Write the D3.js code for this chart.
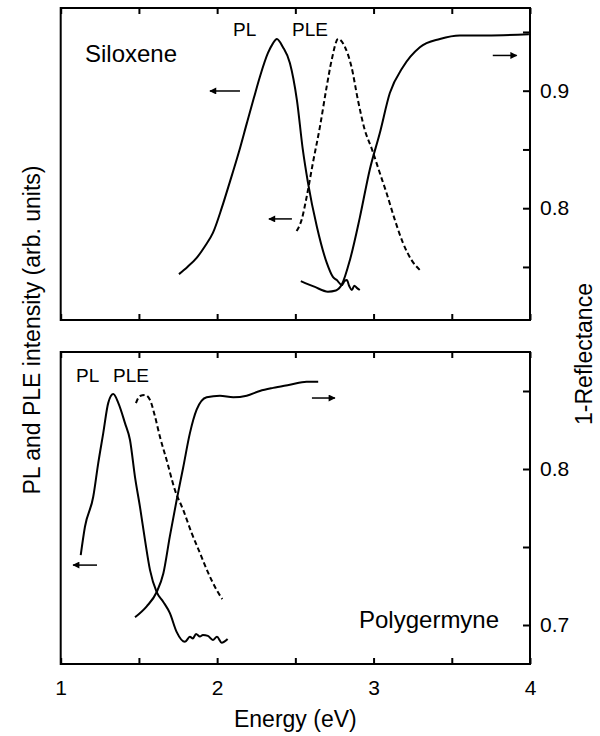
<!DOCTYPE html>
<html>
<head>
<meta charset="utf-8">
<script src="https://cdn.jsdelivr.net/npm/d3@7"></script>
<style>
    body { margin: 0; background: #fff; }
    svg { font-family: "Liberation Sans", Arial, Helvetica, sans-serif; }
    .frame { fill: none; stroke: #000; stroke-width: 2; }
    .curve { fill: none; stroke: #000; stroke-width: 2; stroke-linejoin: round; }
    .dashed { stroke-dasharray: 5, 3; }
    .axis line { stroke: #000; stroke-width: 2; }
    .axis path { display: none; }
    .axis text { font-size: 21px; fill: #000; }
</style>
</head>
<body>
<svg id="chart" width="600" height="736"></svg>
<script>
// energy axis
var energyTicks = [1, 1.5, 2, 2.5, 3, 3.5, 4],
    energyLabels = [1, 2, 3, 4];

// siloxene: [energy (eV), value]
var siloxenePL = [
    [1.756, 0.147], [1.81, 0.170], [1.869, 0.199], [1.92, 0.235], [1.973, 0.279], [2.03, 0.360],
    [2.081, 0.442], [2.14, 0.540], [2.190, 0.631], [2.235, 0.712], [2.273, 0.779], [2.325, 0.856],
    [2.355, 0.885], [2.382, 0.901], [2.42, 0.875], [2.465, 0.824], [2.510, 0.705], [2.548, 0.545],
    [2.580, 0.442], [2.638, 0.298], [2.701, 0.183], [2.740, 0.138], [2.765, 0.128], [2.797, 0.112],
    [2.815, 0.125], [2.829, 0.128], [2.845, 0.108], [2.861, 0.096], [2.877, 0.110], [2.893, 0.103],
    [2.912, 0.096]
];
var siloxenePLE = [
    [2.508, 0.285], [2.540, 0.321], [2.572, 0.394], [2.612, 0.503], [2.657, 0.619], [2.700, 0.747],
    [2.732, 0.833], [2.774, 0.901], [2.817, 0.875], [2.859, 0.811], [2.900, 0.705], [2.944, 0.609],
    [2.987, 0.551], [3.040, 0.471], [3.083, 0.407], [3.136, 0.321], [3.188, 0.247], [3.243, 0.192],
    [3.296, 0.160]
];
var siloxeneRefl = [
    [2.535, 0.738], [2.625, 0.733], [2.708, 0.729], [2.759, 0.730], [2.797, 0.735], [2.849, 0.756],
    [2.912, 0.792], [2.976, 0.833], [3.040, 0.864], [3.104, 0.898], [3.187, 0.920], [3.296, 0.937],
    [3.424, 0.944], [3.552, 0.947], [3.724, 0.947], [3.993, 0.948]
];
var siloxeneReflTicks = [0.75, 0.8, 0.85, 0.9, 0.95],
    siloxeneReflLabels = [0.8, 0.9];

// polygermyne: [energy (eV), value]
var germynePL = [
    [1.128, 0.349], [1.155, 0.440], [1.208, 0.536], [1.240, 0.644], [1.272, 0.740], [1.304, 0.837],
    [1.336, 0.865], [1.368, 0.837], [1.411, 0.772], [1.443, 0.718], [1.475, 0.599], [1.507, 0.503],
    [1.539, 0.397], [1.571, 0.301], [1.613, 0.231], [1.656, 0.199], [1.698, 0.163], [1.741, 0.103],
    [1.794, 0.071], [1.826, 0.087], [1.845, 0.082], [1.865, 0.096], [1.890, 0.088], [1.909, 0.093],
    [1.941, 0.090], [1.973, 0.077], [1.999, 0.087], [2.029, 0.068], [2.067, 0.080]
];
var germynePLE = [
    [1.481, 0.836], [1.507, 0.859], [1.539, 0.862], [1.571, 0.846], [1.603, 0.793], [1.634, 0.729],
    [1.677, 0.654], [1.730, 0.558], [1.783, 0.494], [1.837, 0.420], [1.890, 0.356], [1.943, 0.292],
    [1.997, 0.237], [2.033, 0.208]
];
var germyneRefl = [
    [1.475, 0.705], [1.550, 0.712], [1.613, 0.721], [1.656, 0.733], [1.698, 0.757], [1.741, 0.780],
    [1.783, 0.801], [1.826, 0.823], [1.869, 0.838], [1.933, 0.846], [2.018, 0.847], [2.103, 0.846],
    [2.189, 0.847], [2.273, 0.850], [2.358, 0.852], [2.465, 0.854], [2.572, 0.856], [2.646, 0.856]
];
var germyneReflTicks = [0.7, 0.75, 0.8, 0.85],
    germyneReflLabels = [0.7, 0.8];

var svg = d3.select('#chart'),
    left = 60.7,
    right = 530,
    x = d3.scaleLinear().domain([1, 4]).range([left, right]);

// arrow head
svg.append('defs').append('marker')
    .attr('id', 'head')
    .attr('viewBox', '0 0 10 10')
    .attr('refX', 9)
    .attr('refY', 5)
    .attr('markerWidth', 9)
    .attr('markerHeight', 7)
    .attr('markerUnits', 'userSpaceOnUse')
    .attr('orient', 'auto')
    .append('path')
    .attr('d', 'M0,0 L10,5 L0,10 z')
    .attr('fill', '#000');

drawPanel({
    top: 8, bottom: 320,
    intensity: d3.scaleLinear().domain([0, 1]).range([320, 8]),
    refl: d3.scaleLinear().domain([0.8, 0.9]).range([208.2, 90.7]),
    pl: siloxenePL, ple: siloxenePLE, reflData: siloxeneRefl,
    reflTicks: siloxeneReflTicks, reflLabels: siloxeneReflLabels,
    showEnergy: false,
    arrows: [
        {from: [2.146, 0.734], to: [1.954, 0.734], axis: 'i'},
        {from: [2.478, 0.324], to: [2.331, 0.324], axis: 'i'},
        {from: [3.762, 0.930], to: [3.915, 0.930], axis: 'r'}
    ],
    labels: [
        {text: 'Siloxene', x: 85, y: 62, size: 24},
        {text: 'PL', x: 233, y: 36, size: 19},
        {text: 'PLE', x: 292, y: 36, size: 19}
    ]
});

drawPanel({
    top: 352, bottom: 664,
    intensity: d3.scaleLinear().domain([0, 1]).range([664, 352]),
    refl: d3.scaleLinear().domain([0.7, 0.8]).range([625, 469]),
    pl: germynePL, ple: germynePLE, reflData: germyneRefl,
    reflTicks: germyneReflTicks, reflLabels: germyneReflLabels,
    showEnergy: true,
    arrows: [
        {from: [1.232, 0.317], to: [1.079, 0.317], axis: 'i'},
        {from: [2.606, 0.8455], to: [2.753, 0.8455], axis: 'r'}
    ],
    labels: [
        {text: 'PL', x: 76, y: 382, size: 19},
        {text: 'PLE', x: 113, y: 382, size: 19},
        {text: 'Polygermyne', x: 359, y: 628, size: 24}
    ]
});

// axis titles
svg.append('text')
    .attr('x', x(2.5))
    .attr('y', 727)
    .attr('text-anchor', 'middle')
    .style('font-size', '23px')
    .text('Energy (eV)');

svg.append('text')
    .attr('transform', 'translate(40,330) rotate(-90)')
    .attr('text-anchor', 'middle')
    .style('font-size', '23px')
    .text('PL and PLE intensity (arb. units)');

svg.append('text')
    .attr('transform', 'translate(592,354) rotate(-90)')
    .attr('text-anchor', 'middle')
    .style('font-size', '23px')
    .text('1-Reflectance');


/**
 * Draws one panel: frame, ticks, the three curves and its annotations
 *
 * @param p - panel settings (scales, data, labels)
 */
function drawPanel(p) {
    var g = svg.append('g');

    // energy ticks on the bottom edge
    g.append('g')
        .attr('class', 'axis')
        .attr('transform', 'translate(0,' + p.bottom + ')')
        .call(d3.axisBottom(x)
            .tickValues(energyTicks)
            .tickSize(-6)
            .tickPadding(16)
            .tickFormat(function (d) {
                return p.showEnergy && energyLabels.indexOf(d) > -1 ? d : '';
            }));

    // energy ticks on the top edge
    g.append('g')
        .attr('class', 'axis')
        .attr('transform', 'translate(0,' + p.top + ')')
        .call(d3.axisTop(x).tickValues(energyTicks).tickSize(-6).tickFormat(''));

    // reflectance ticks on the right edge
    g.append('g')
        .attr('class', 'axis')
        .attr('transform', 'translate(' + right + ',0)')
        .call(d3.axisRight(p.refl)
            .tickValues(p.reflTicks)
            .tickSize(-7)
            .tickPadding(10)
            .tickFormat(function (d) {
                return p.reflLabels.indexOf(d) > -1 ? d3.format('.1f')(d) : '';
            }));

    g.append('rect')
        .attr('class', 'frame')
        .attr('x', left)
        .attr('y', p.top)
        .attr('width', right - left)
        .attr('height', p.bottom - p.top);

    // smooth the traced points a little
    var lineI = d3.line()
        .curve(d3.curveMonotoneX)
        .x(function (d) { return x(d[0]); })
        .y(function (d) { return p.intensity(d[1]); });

    var lineR = d3.line()
        .curve(d3.curveMonotoneX)
        .x(function (d) { return x(d[0]); })
        .y(function (d) { return p.refl(d[1]); });

    g.append('path').attr('class', 'curve').attr('d', lineI(p.pl));
    g.append('path').attr('class', 'curve dashed').attr('d', lineI(p.ple));
    g.append('path').attr('class', 'curve').attr('d', lineR(p.reflData));

    // arrows pointing to the axis each curve belongs to
    g.selectAll('.arrow').data(p.arrows)
        .enter()
        .append('line')
        .attr('class', 'arrow')
        .attr('stroke', '#000')
        .attr('stroke-width', 1.5)
        .attr('marker-end', 'url(#head)')
        .attr('x1', function (a) { return x(a.from[0]); })
        .attr('x2', function (a) { return x(a.to[0]); })
        .attr('y1', function (a) { return (a.axis == 'i' ? p.intensity : p.refl)(a.from[1]); })
        .attr('y2', function (a) { return (a.axis == 'i' ? p.intensity : p.refl)(a.to[1]); });

    g.selectAll('.label').data(p.labels)
        .enter()
        .append('text')
        .attr('class', 'label')
        .attr('x', function (l) { return l.x; })
        .attr('y', function (l) { return l.y; })
        .style('font-size', function (l) { return l.size + 'px'; })
        .text(function (l) { return l.text; });
}
</script>
</body>
</html>
